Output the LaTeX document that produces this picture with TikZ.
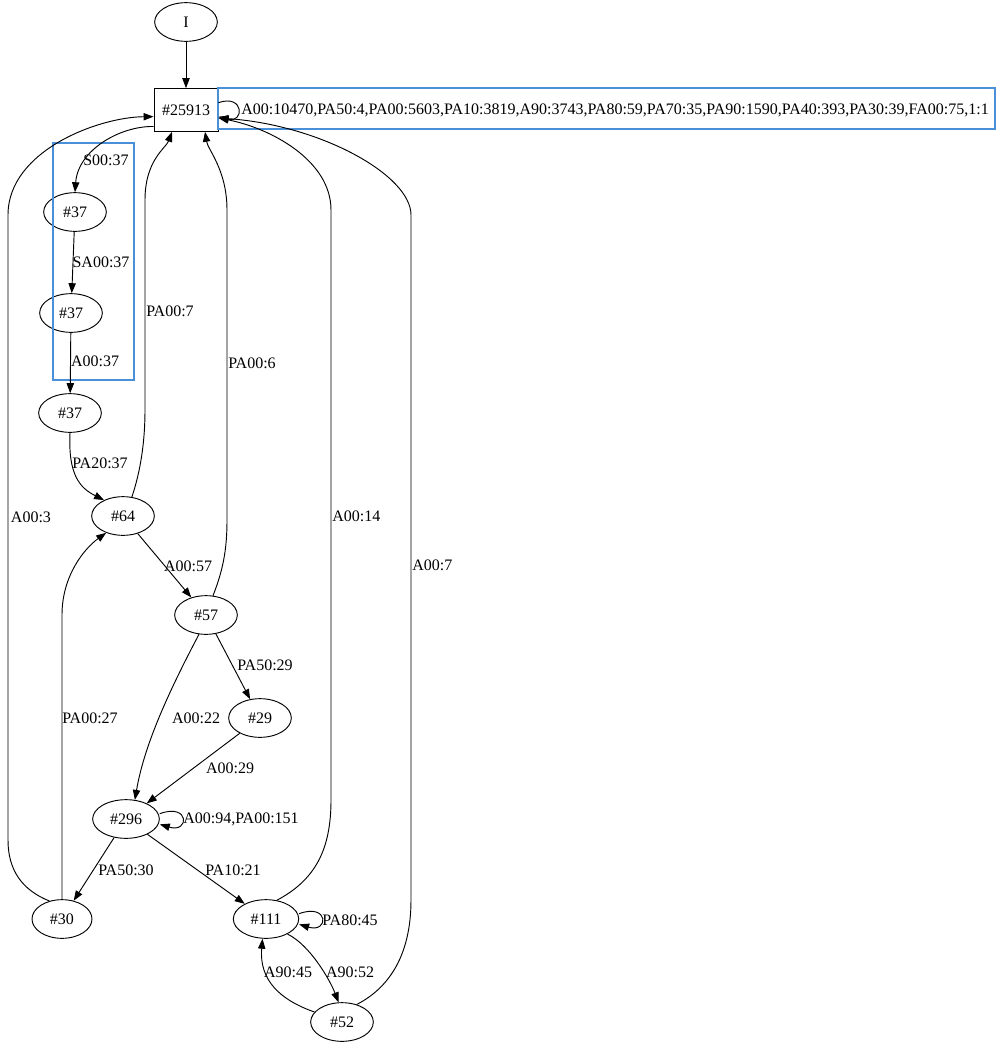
\documentclass[tikz,border=0pt]{standalone}
\usepackage{fontspec}
\setmainfont{Liberation Serif}
\usetikzlibrary{arrows.meta,shapes.geometric}
\definecolor{hl}{RGB}{74,144,217}
\begin{document}
\begin{tikzpicture}[x=0.75pt,y=-0.75pt,
  st/.style={ellipse,draw,line width=0.7pt,minimum width=47pt,minimum height=29pt,inner sep=0pt,font=\fontsize{12}{14}\selectfont},
  sq/.style={rectangle,draw,line width=0.7pt,minimum width=48pt,minimum height=32pt,inner sep=0pt,font=\fontsize{12}{14}\selectfont},
  lbl/.style={inner sep=0pt,font=\fontsize{12}{14}\selectfont},
  e/.style={line width=0.7pt,-{Triangle[length=7.5pt,width=5.5pt]}},
  hlbox/.style={draw=hl,line width=1.5pt}
]
\useasboundingbox (0,0) rectangle (998,1043);
% nodes
\node[st] (I) at (186,22) {I};
\node[sq] (top) at (186,110) {\#25913};
\node[st] (a) at (75,212) {\#37};
\node[st] (b) at (71,313) {\#37};
\node[st] (c) at (70,413) {\#37};
\node[st] (n64) at (123,516) {\#64};
\node[st] (n57) at (206,615) {\#57};
\node[st] (n29) at (260,718) {\#29};
\node[st,minimum width=50pt] (n296) at (126,819) {\#296};
\node[st,minimum width=45pt] (n30) at (62,919) {\#30};
\node[st,minimum width=49pt] (n111) at (266,919) {\#111};
\node[st] (n52) at (342,1022) {\#52};
% highlight boxes
\draw[hlbox] (218,88) rectangle (995,129);
\draw[hlbox] (53,143) rectangle (134,380);
% edges
\draw[e] (I) -- (top);
\draw[e] ([yshift=5.5pt]top.east) .. controls +(26,-9) and +(26,7) .. ([yshift=-5pt]top.east);
\node[lbl,anchor=west] (ltop) at (241,110) {A00:10470,PA50:4,PA00:5603,PA10:3819,A90:3743,PA80:59,PA70:35,PA90:1590,PA40:393,PA30:39,FA00:75,1:1};
\draw[e] (n30.125) .. controls (22,890) and (8,870) .. (8,840) -- (8,215) .. controls (8,150) and (100,117) .. ([yshift=-5pt]top.west);
\node[lbl] (l3) at (31,517) {A00:3};
\draw[e] ([yshift=4pt]top.south west) .. controls (120,126) and (78,150) .. (a.north);
\node[lbl] (ls00) at (106,160) {S00:37};
\draw[e] (a) -- (b);
\node[lbl] (lsa) at (101,262) {SA00:37};
\draw[e] (b) -- (c);
\node[lbl] (la37) at (95,361) {A00:37};
\draw[e] (c.south) .. controls (68,475) and (80,488) .. (n64.140);
\node[lbl] (lpa20) at (100,463) {PA20:37};
\draw[e] (n64.65) .. controls (141,470) and (145,440) .. (145,410) -- (145,200) .. controls (145,160) and (166,148) .. ([xshift=-10.5pt]top.south);
\node[lbl,anchor=west] (lpa7) at (146,311) {PA00:7};
\draw[e] (n57.70) .. controls (223,570) and (227,550) .. (227,520) -- (227,210) .. controls (227,170) and (208,150) .. ([xshift=14.25pt]top.south);
\node[lbl,anchor=west] (lpa6) at (228,363) {PA00:6};
\draw[e] (n111.60) .. controls (315,880) and (331,850) .. (331,800) -- (331,210) .. controls (331,160) and (270,128) .. ([yshift=-6pt]top.east);
\node[lbl,anchor=west] (l14) at (332,516) {A00:14};
\draw[e] (n52.50) .. controls (385,990) and (411,960) .. (411,900) -- (411,215) .. controls (411,175) and (320,125) .. ([yshift=-6pt]top.east);
\node[lbl,anchor=west] (l7) at (412,565) {A00:7};
\draw[e] (n64) -- (n57);
\node[lbl] (l57) at (188,566) {A00:57};
\draw[e] (n57) -- (n29);
\node[lbl,anchor=west] (lpa50) at (237,665) {PA50:29};
\draw[e] (n57.250) .. controls (175,680) and (145,740) .. (n296.65);
\node[lbl] (l22) at (196,718) {A00:22};
\draw[e] (n29) -- (n296);
\node[lbl] (l29) at (230,768) {A00:29};
\draw[e] ([yshift=4pt]n296.east) .. controls +(30,-11) and +(30,9) .. ([yshift=-4pt]n296.east);
\node[lbl,anchor=west] (l296) at (183,819) {A00:94,PA00:151};
\draw[e] (n296) -- (n30);
\node[lbl] (l30) at (126,870) {PA50:30};
\draw[e] (n296) -- (n111);
\node[lbl] (l21) at (233,870) {PA10:21};
\draw[e] (n30.north) -- (62,615) .. controls (62,575) and (85,548) .. (n64.-135);
\node[lbl,anchor=west] (l27) at (62,718) {PA00:27};
\draw[e] ([yshift=4pt]n111.east) .. controls +(30,-11) and +(30,9) .. ([yshift=-4pt]n111.east);
\node[lbl,anchor=west] (l80) at (322,920) {PA80:45};
\draw[e] (n111.-35) .. controls (310,945) and (330,980) .. (n52.100);
\node[lbl] (l52) at (350,972) {A90:52};
\draw[e] (n52.160) .. controls (280,1000) and (259,980) .. (n111.-100);
\node[lbl] (l45) at (288,972) {A90:45};
\end{tikzpicture}
\end{document}
